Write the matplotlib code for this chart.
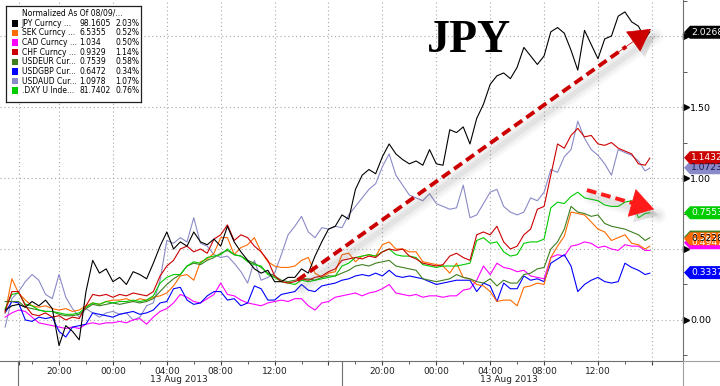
import numpy as np
import matplotlib
matplotlib.use('Agg')
import matplotlib.pyplot as plt
from matplotlib.patches import Polygon
from matplotlib.lines import Line2D
from matplotlib.transforms import IdentityTransform, blended_transform_factory, offset_copy

# hours since 20:00 (first session label), half-hour samples
hours = np.append(np.arange(-4, 44, 0.5), 43.85)

jpy = [0.07, 0.10, 0.11, 0.09, 0.13, 0.10, 0.14, 0.08,
       -0.18, -0.04, -0.08, -0.14, 0.20, 0.42, 0.33, 0.36,
       0.27, 0.30, 0.25, 0.34, 0.32, 0.29, 0.40, 0.52,
       0.62, 0.50, 0.55, 0.52, 0.62, 0.55, 0.53, 0.57,
       0.52, 0.66, 0.55, 0.48, 0.42, 0.36, 0.33, 0.35,
       0.27, 0.27, 0.30, 0.30, 0.36, 0.33, 0.45, 0.55,
       0.64, 0.66, 0.74, 0.71, 0.92, 1.02, 1.06, 1.03,
       1.15, 1.24, 1.17, 1.13, 1.10, 1.12, 1.09, 1.20,
       1.10, 1.09, 1.34, 1.32, 1.36, 1.24, 1.42, 1.52,
       1.66, 1.72, 1.74, 1.70, 1.78, 1.92, 1.86, 1.80,
       1.86, 2.03, 2.06, 2.02, 1.90, 1.76, 2.04, 1.94,
       1.84, 1.98, 2.00, 2.14, 2.17, 2.10, 2.07, 1.98,
       2.03]
sek = [0.05, 0.29, 0.19, 0.14, 0.10, 0.09, 0.10, 0.08,
       0.07, 0.08, 0.06, 0.07, 0.10, 0.12, 0.11, 0.13,
       0.14, 0.14, 0.15, 0.13, 0.15, 0.14, 0.16, 0.17,
       0.19, 0.24, 0.31, 0.32, 0.28, 0.41, 0.43, 0.47,
       0.58, 0.58, 0.46, 0.51, 0.53, 0.58, 0.48, 0.41,
       0.38, 0.37, 0.37, 0.38, 0.42, 0.44, 0.33, 0.30,
       0.33, 0.34, 0.46, 0.47, 0.41, 0.45, 0.46, 0.45,
       0.53, 0.55, 0.50, 0.50, 0.48, 0.48, 0.41, 0.40,
       0.39, 0.38, 0.33, 0.40, 0.30, 0.29, 0.25, 0.24,
       0.20, 0.13, 0.14, 0.14, 0.10, 0.23, 0.24, 0.26,
       0.25, 0.44, 0.52, 0.59, 0.76, 0.75, 0.74, 0.69,
       0.64, 0.62, 0.56, 0.58, 0.60, 0.54, 0.53, 0.50,
       0.52]
cad = [0.02, 0.05, 0.07, 0.06, 0.02, -0.02, -0.03, -0.04,
       -0.05, -0.06, -0.05, -0.06, -0.03, -0.02, -0.03, -0.02,
       -0.02, -0.01, -0.02, 0.00, 0.01, -0.03, 0.02, 0.06,
       0.08, 0.12, 0.18, 0.16, 0.13, 0.12, 0.15, 0.18,
       0.26, 0.18, 0.17, 0.14, 0.12, 0.11, 0.10, 0.12,
       0.13, 0.14, 0.13, 0.15, 0.15, 0.10, 0.07, 0.12,
       0.13, 0.16, 0.17, 0.18, 0.19, 0.17, 0.19, 0.20,
       0.22, 0.25, 0.19, 0.18, 0.17, 0.18, 0.16, 0.17,
       0.17, 0.16, 0.17, 0.17, 0.21, 0.22, 0.28, 0.38,
       0.32, 0.40, 0.37, 0.36, 0.34, 0.35, 0.31, 0.30,
       0.29, 0.44, 0.46, 0.45, 0.52, 0.53, 0.55, 0.54,
       0.51, 0.52, 0.50, 0.49, 0.53, 0.52, 0.52, 0.49,
       0.49]
chf = [0.06, 0.20, 0.20, 0.10, 0.04, 0.03, 0.05, 0.02,
       0.03, 0.00, 0.02, 0.01, 0.10, 0.18, 0.17, 0.18,
       0.16, 0.18, 0.17, 0.19, 0.18, 0.17, 0.20, 0.31,
       0.38, 0.42, 0.50, 0.52, 0.48, 0.50, 0.47, 0.57,
       0.60, 0.67, 0.56, 0.60, 0.58, 0.52, 0.48, 0.42,
       0.31, 0.27, 0.26, 0.27, 0.29, 0.28, 0.30, 0.31,
       0.34, 0.36, 0.42, 0.43, 0.44, 0.43, 0.45, 0.44,
       0.48, 0.50, 0.49, 0.50, 0.45, 0.43, 0.40, 0.39,
       0.38, 0.39, 0.45, 0.47, 0.44, 0.42, 0.60, 0.62,
       0.60, 0.66, 0.55, 0.50, 0.52, 0.60, 0.64, 0.78,
       0.80, 1.02, 1.24, 1.21, 1.30, 1.35, 1.29, 1.30,
       1.24, 1.23, 1.25, 1.21, 1.19, 1.17, 1.10, 1.09,
       1.14]
usdeur = [0.13, 0.13, 0.13, 0.09, 0.08, 0.07, 0.06, 0.06,
          0.04, 0.03, 0.03, 0.04, 0.08, 0.11, 0.10, 0.11,
          0.12, 0.11, 0.12, 0.13, 0.12, 0.13, 0.15, 0.20,
          0.25, 0.29, 0.32, 0.38, 0.40, 0.39, 0.42, 0.44,
          0.47, 0.49, 0.46, 0.45, 0.42, 0.40, 0.37, 0.33,
          0.31, 0.28, 0.27, 0.28, 0.29, 0.29, 0.28, 0.30,
          0.31, 0.31, 0.33, 0.35, 0.38, 0.39, 0.38, 0.40,
          0.41, 0.42, 0.38, 0.37, 0.36, 0.35, 0.29, 0.28,
          0.27, 0.28, 0.29, 0.32, 0.30, 0.29, 0.27, 0.26,
          0.29, 0.24, 0.28, 0.26, 0.26, 0.32, 0.33, 0.36,
          0.37, 0.50, 0.55, 0.64, 0.80, 0.76, 0.75, 0.73,
          0.74, 0.68, 0.66, 0.65, 0.64, 0.62, 0.60, 0.56,
          0.58]
usdgbp = [0.05, 0.13, 0.12, 0.00, -0.01, 0.02, 0.01, 0.02,
          -0.08, -0.12, -0.05, -0.04, -0.03, 0.05, 0.04, 0.03,
          0.02, 0.04, 0.05, 0.06, 0.04, 0.05, 0.07, 0.12,
          0.13, 0.22, 0.23, 0.14, 0.11, 0.12, 0.17, 0.20,
          0.20, 0.14, 0.15, 0.10, 0.12, 0.24, 0.22, 0.14,
          0.14, 0.18, 0.19, 0.20, 0.25, 0.21, 0.20, 0.24,
          0.25, 0.26, 0.28, 0.29, 0.31, 0.32, 0.31, 0.33,
          0.31, 0.35, 0.31, 0.30, 0.31, 0.30, 0.29, 0.27,
          0.25, 0.26, 0.27, 0.28, 0.28, 0.28, 0.20, 0.26,
          0.24, 0.13, 0.26, 0.22, 0.22, 0.31, 0.28, 0.29,
          0.27, 0.40, 0.43, 0.46, 0.38, 0.20, 0.25, 0.28,
          0.30, 0.27, 0.26, 0.27, 0.40, 0.37, 0.35, 0.32,
          0.33]
usdaud = [-0.05, 0.15, 0.20, 0.27, 0.32, 0.28, 0.18, 0.15,
          0.32, 0.16, 0.08, 0.02, 0.08, 0.05, 0.02, 0.05,
          0.06, 0.04, 0.05, 0.00, 0.02, 0.10, 0.12, 0.28,
          0.56, 0.54, 0.58, 0.55, 0.72, 0.54, 0.52, 0.46,
          0.44, 0.45, 0.40, 0.34, 0.26, 0.42, 0.28, 0.30,
          0.33, 0.46, 0.60, 0.66, 0.73, 0.62, 0.58, 0.65,
          0.64, 0.66, 0.65, 0.74, 0.80, 0.86, 0.92, 0.96,
          1.08, 1.17, 1.02, 0.95, 0.88, 0.86, 0.84, 0.89,
          0.82, 0.80, 0.78, 0.79, 0.95, 0.72, 0.74, 0.82,
          0.90, 0.92, 0.80, 0.76, 0.74, 0.76, 0.86, 0.84,
          0.90, 1.06, 1.04, 1.15, 1.20, 1.40, 1.28, 1.20,
          1.16, 1.10, 1.02, 1.20, 1.18, 1.16, 1.12, 1.05,
          1.07]
dxy = [0.08, 0.18, 0.19, 0.11, 0.10, 0.07, 0.06, 0.06,
       0.05, 0.04, 0.04, 0.05, 0.09, 0.12, 0.11, 0.13,
       0.12, 0.13, 0.13, 0.14, 0.13, 0.14, 0.17, 0.26,
       0.30, 0.32, 0.32, 0.38, 0.41, 0.40, 0.44, 0.45,
       0.46, 0.50, 0.46, 0.45, 0.41, 0.39, 0.38, 0.32,
       0.30, 0.27, 0.26, 0.25, 0.28, 0.27, 0.28, 0.29,
       0.30, 0.31, 0.38, 0.40, 0.44, 0.45, 0.46, 0.45,
       0.48, 0.50, 0.46, 0.45, 0.45, 0.44, 0.39, 0.38,
       0.37, 0.38, 0.38, 0.38, 0.39, 0.40, 0.56, 0.58,
       0.54, 0.55, 0.48, 0.45, 0.46, 0.54, 0.55, 0.55,
       0.57, 0.79, 0.83, 0.82, 0.87, 0.90, 0.86, 0.85,
       0.84, 0.81, 0.80, 0.80, 0.83, 0.84, 0.72, 0.75,
       0.755]

legend_names = ['JPY Curncy ...', 'SEK Curncy ...', 'CAD Curncy ...', 'CHF Curncy ...',
                'USDEUR Cur...', 'USDGBP Cur...', 'USDAUD Cur...', '.DXY U Inde...']
legend_last = ['98.1605', '6.5355', '1.034', '0.9329', '0.7539', '0.6472', '1.0978', '81.7402']
legend_pct = ['2.03%', '0.52%', '0.50%', '1.14%', '0.58%', '0.34%', '1.07%', '0.76%']
colors = ['#000000', '#ff6a00', '#ff00ff', '#cc0000', '#3f7f1f', '#0000ff', '#8a8ac8', '#00cc00']
series = [jpy, sek, cad, chf, usdeur, usdgbp, usdaud, dxy]

# right-hand value tags (last values)
tag_values = [2.0268, 0.5228, 0.4947, 1.1432, 0.5838, 0.3337, 1.0723, 0.7553]
tag_text_col = ['white', 'black', 'white', 'white', 'white', 'white', '#1a1a50', 'white']
tag_nudge = [0, 7, 7, 0, 0, 0, 0, 0]  # px up, where tags collide

xtick_pos = [-3, 0, 4, 8, 12, 16, 20, 24, 28, 32, 36, 40, 44]
xtick_lab = ['', '20:00', '00:00', '04:00', '08:00', '12:00', '',
             '20:00', '00:00', '04:00', '08:00', '12:00', '']
date_pos = [8.9, 33.4]
date_lab = ['13 Aug 2013', '13 Aug 2013']
session_breaks = [-3.05, 21.0]
ytick_pos = [0.0, 0.5, 1.0, 1.5, 2.0]
ytick_lab = ['0.00', '', '1.00', '1.50', '']  # 0.50 / 2.00 sit under the value tags

W, H = 720, 386
fig = plt.figure(figsize=(W / 100, H / 100), dpi=100)
ax = fig.add_axes([0, 25 / H, 683 / W, 361 / H])
ax.set_xlim(-4.38, 46.31)
ax.set_ylim(-0.289, 2.254)

# lines, black on top
for i in [6, 2, 5, 1, 4, 7, 3, 0]:
    ax.plot(hours, series[i], color=colors[i], lw=0.8, zorder=3)

# grid / axes
ax.set_xticks(xtick_pos)
ax.set_xticklabels(xtick_lab, fontsize=6.5, color='#202020')
ax.set_xticks(np.arange(-2, 46, 4), minor=True)
ax.set_yticks(ytick_pos)
ax.set_yticklabels(ytick_lab, fontsize=6.8)
ax.set_yticks(np.arange(-0.25, 2.3, 0.5), minor=True)
ax.yaxis.tick_right()
ax.tick_params(axis='y', which='major', length=0, pad=5)
ax.tick_params(axis='y', which='minor', length=3, color='#404040')
ax.tick_params(axis='x', which='major', length=3, pad=1.5, color='#404040')
ax.tick_params(axis='x', which='minor', length=2, color='#404040')
ax.grid(True, which='major', color='#a8a8a8', linestyle=(0, (1, 2.5)), linewidth=0.8)
for s in ['top', 'left']:
    ax.spines[s].set_visible(False)
for s in ['bottom', 'right']:
    ax.spines[s].set_color('#707070')
    ax.spines[s].set_linewidth(0.8)

yblend = blended_transform_factory(ax.transAxes, ax.transData)
ax.plot([1 + 3 / 683] * len(ytick_pos), ytick_pos, transform=yblend, ls='none',
        marker='>', ms=4, color='black', clip_on=False)

xblend = blended_transform_factory(ax.transData, ax.transAxes)
for p, lab in zip(date_pos, date_lab):
    ax.text(p, -19 / 361, lab, transform=xblend, ha='center', va='center', fontsize=6.5, color='#202020')
for p in session_breaks:
    ax.plot([p, p], [0, -0.075], transform=xblend, color='#707070', lw=0.8, clip_on=False)
fig.add_artist(Line2D([683 / W, 1], [25 / H, 25 / H], color='#a0a0a0', lw=0.8))
fig.add_artist(Line2D([683 / W, 683 / W], [0, 25 / H], color='#a0a0a0', lw=0.8))

# JPY label
fig.text(469 / W, 1 - 52 / H, 'JPY', ha='center', va='baseline', fontsize=33,
         family='Liberation Serif', weight='bold', color='black')

# arrows with soft shadows
def shadow_arrow(start, end, color, lw, head_len, head_w, dx, dy):
    sh = offset_copy(ax.transData, fig=fig, x=dx, y=dy, units='dots')
    for w, a in [(12, 0.045), (8, 0.06), (4, 0.08)]:
        ax.plot([start[0], end[0]], [start[1], end[1]], transform=sh, color='#606060',
                lw=w, alpha=a, solid_capstyle='round', zorder=4)
    f = 0.9
    mid = (start[0] + f * (end[0] - start[0]), start[1] + f * (end[1] - start[1]))
    ax.annotate('', xy=end, xytext=mid, xycoords=sh, textcoords=sh,
                arrowprops=dict(arrowstyle='-|>,head_length=%f,head_width=%f' % (head_len, head_w),
                                mutation_scale=20, color='#808080', alpha=0.22, lw=0,
                                shrinkA=0, shrinkB=0), zorder=4)
    f2 = 0.93
    stop = (start[0] + f2 * (end[0] - start[0]), start[1] + f2 * (end[1] - start[1]))
    ax.plot([start[0], stop[0]], [start[1], stop[1]], color=color, lw=lw,
            dashes=(2.5, 1.3), zorder=5, solid_capstyle='butt')
    ax.annotate('', xy=end, xytext=mid,
                arrowprops=dict(arrowstyle='-|>,head_length=%f,head_width=%f' % (head_len, head_w),
                                mutation_scale=20, color=color, lw=0.5,
                                shrinkA=0, shrinkB=0), zorder=6)

shadow_arrow((17.7, 0.28), (43.93, 2.05), '#cc0000', 2.8, 0.75, 0.42, 4, -7)
shadow_arrow((39.18, 0.915), (44.16, 0.78), '#ff1a1a', 2.8, 0.8, 0.5, 4, -6)

# right-hand tags
order = [4, 2, 1, 5, 7, 6, 3, 0]
for i in order:
    yd = ax.transData.transform((0, tag_values[i]))[1] + tag_nudge[i]
    verts = [(684, yd), (690, yd + 6.5), (725, yd + 6.5), (725, yd - 6.5), (690, yd - 6.5)]
    fig.add_artist(Polygon(verts, closed=True, facecolor=colors[i], edgecolor='none',
                           transform=IdentityTransform(), zorder=10))
    fig.text(691 / W, yd / H, '%.4f' % tag_values[i], ha='left', va='center',
             fontsize=6.6, color=tag_text_col[i], zorder=11)

# legend box
lax = fig.add_axes([6.5 / W, 1 - 102 / H, 134 / W, 96.5 / H], zorder=20)
lax.set_xlim(0, 134)
lax.set_ylim(96.5, 0)
lax.set_xticks([])
lax.set_yticks([])
for s in lax.spines.values():
    s.set_linewidth(0.9)
    s.set_color('#202020')
lax.text(15.2, 7.8, 'Normalized As Of 08/09/...', fontsize=5.5, va='center', ha='left')
for k in range(len(legend_names)):
    yy = 17.8 + k * 9.63
    lax.add_patch(plt.Rectangle((5, yy - 3.3), 6.6, 6.6, facecolor=colors[k], edgecolor='none'))
    lax.text(15.2, yy, legend_names[k], fontsize=5.5, va='center', ha='left')
    lax.text(72.5, yy, legend_last[k], fontsize=5.5, va='center', ha='left')
    lax.text(109.2, yy, legend_pct[k], fontsize=5.5, va='center', ha='left')

fig.savefig('out.png', dpi=100)
